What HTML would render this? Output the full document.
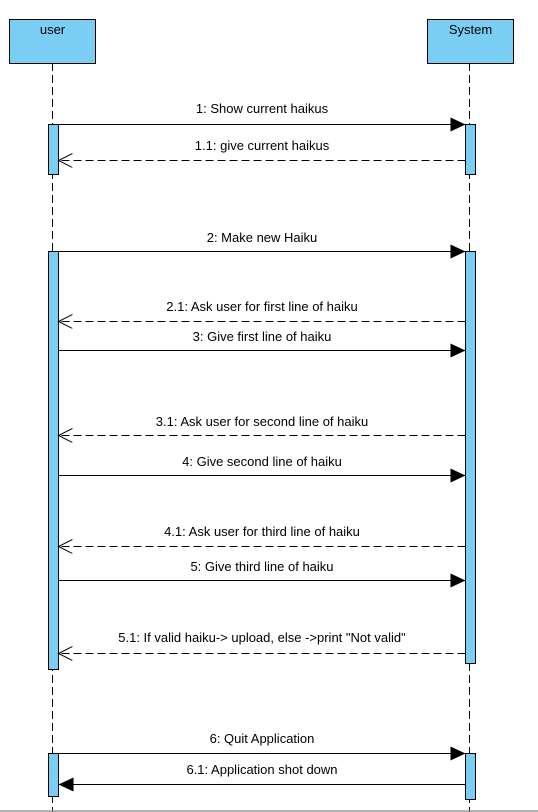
<!DOCTYPE html>
<html><head><meta charset="utf-8"><style>
html,body{margin:0;padding:0;background:#fff;}
svg{display:block;}
text{font-family:"Liberation Sans",Arial,sans-serif;font-size:13px;fill:#000;}
</style></head><body>
<svg width="538" height="812" viewBox="0 0 538 812" xmlns="http://www.w3.org/2000/svg">
<defs>
<marker id="solid" markerWidth="16" markerHeight="16" refX="15" refY="7" orient="auto" markerUnits="userSpaceOnUse">
<path d="M0,0 L15,7 L0,14 Z" fill="#000"/>
</marker>
<marker id="open" markerWidth="16" markerHeight="16" refX="14" refY="7" orient="auto" markerUnits="userSpaceOnUse">
<path d="M0,0 L14,7 L0,14" fill="none" stroke="#000" stroke-width="1"/>
</marker>
</defs>
<line x1="52.5" y1="63" x2="52.5" y2="812" stroke="#000" stroke-dasharray="8,4"/>
<line x1="469.5" y1="63" x2="469.5" y2="812" stroke="#000" stroke-dasharray="8,4"/>
<rect x="9.5" y="19.5" width="86" height="44" fill="#7acdf3" stroke="#000"/>
<text x="52.5" y="34" text-anchor="middle">user</text>
<rect x="427.5" y="19.5" width="86" height="44" fill="#7acdf3" stroke="#000"/>
<text x="470.5" y="34" text-anchor="middle">System</text>
<g fill="#7acdf3" stroke="#000">
<rect x="48.5" y="124.5" width="10" height="50"/>
<rect x="465.5" y="124.5" width="10" height="50"/>
<rect x="48.5" y="251.5" width="10" height="418"/>
<rect x="465.5" y="251.5" width="10" height="412"/>
<rect x="48.5" y="753.5" width="10" height="43"/>
<rect x="465.5" y="753.5" width="10" height="46"/>
</g>
<g stroke="#000" stroke-width="1">
<line x1="58.5" y1="124.5" x2="465.5" y2="124.5" marker-end="url(#solid)"/>
<line x1="465.5" y1="160.5" x2="58.5" y2="160.5" stroke-dasharray="8,4" marker-end="url(#open)"/>
<line x1="58.5" y1="251.5" x2="465.5" y2="251.5" marker-end="url(#solid)"/>
<line x1="465.5" y1="321.5" x2="58.5" y2="321.5" stroke-dasharray="8,4" marker-end="url(#open)"/>
<line x1="58.5" y1="350.5" x2="465.5" y2="350.5" marker-end="url(#solid)"/>
<line x1="465.5" y1="435.5" x2="58.5" y2="435.5" stroke-dasharray="8,4" marker-end="url(#open)"/>
<line x1="58.5" y1="475.5" x2="465.5" y2="475.5" marker-end="url(#solid)"/>
<line x1="465.5" y1="546.5" x2="58.5" y2="546.5" stroke-dasharray="8,4" marker-end="url(#open)"/>
<line x1="58.5" y1="580.5" x2="465.5" y2="580.5" marker-end="url(#solid)"/>
<line x1="465.5" y1="653.5" x2="58.5" y2="653.5" stroke-dasharray="8,4" marker-end="url(#open)"/>
<line x1="58.5" y1="753.5" x2="465.5" y2="753.5" marker-end="url(#solid)"/>
<line x1="465.5" y1="784.5" x2="58.5" y2="784.5" marker-end="url(#solid)"/>
</g>
<g text-anchor="middle">
<text x="262" y="113">1: Show current haikus</text>
<text x="262" y="150">1.1: give current haikus</text>
<text x="262" y="242">2: Make new Haiku</text>
<text x="262" y="311">2.1: Ask user for first line of haiku</text>
<text x="262" y="341">3: Give first line of haiku</text>
<text x="262" y="426">3.1: Ask user for second line of haiku</text>
<text x="262" y="466">4: Give second line of haiku</text>
<text x="262" y="536">4.1: Ask user for third line of haiku</text>
<text x="262" y="571">5: Give third line of haiku</text>
<text x="262" y="642">5.1: If valid haiku-&gt; upload, else -&gt;print "Not valid"</text>
<text x="262" y="743">6: Quit Application</text>
<text x="262" y="774">6.1: Application shot down</text>
</g>
<line x1="0" y1="811" x2="538" y2="811" stroke="#999" stroke-width="1.5"/>
</svg>
</body></html>
